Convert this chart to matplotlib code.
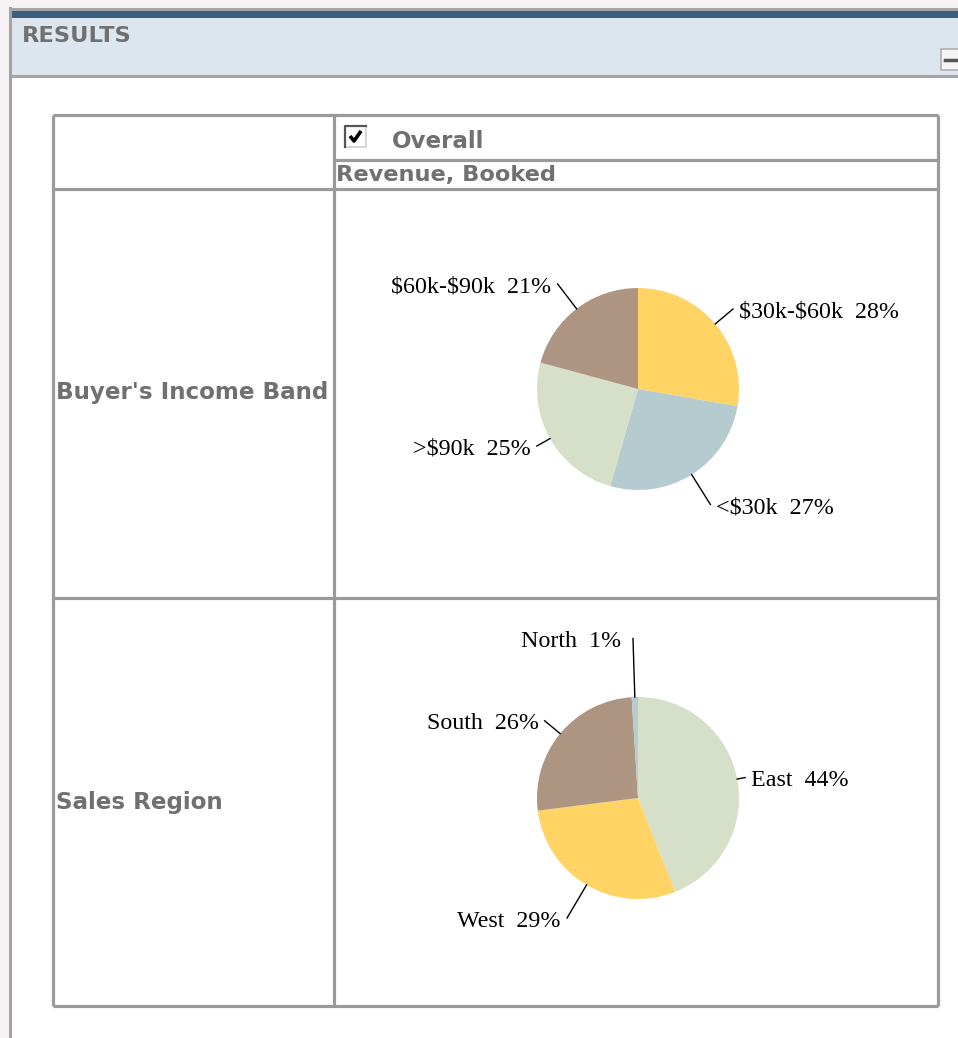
import matplotlib
matplotlib.use("Agg")
import matplotlib.pyplot as plt
from matplotlib.patches import Rectangle
import numpy as np

# ---------------- data ----------------
income_labels = ["$30k-$60k", "<$30k", ">$90k", "$60k-$90k"]
income_pct = [28, 27, 25, 21]
region_labels = ["East", "West", "South", "North"]
region_pct = [44, 29, 26, 1]

panel_title = "RESULTS"
column_header = "Overall"
measure_header = "Revenue, Booked"
row_headers = ["Buyer's Income Band", "Sales Region"]

# ---------------- style ----------------
YELLOW, BLUE, GREEN, BROWN = "#ffd364", "#b5cbcf", "#d6dfc7", "#ad9582"
income_colors = [YELLOW, BLUE, GREEN, BROWN]
region_colors = [GREEN, YELLOW, BROWN, BLUE]
income_leader = [1.23, 1.35, 1.15, 1.31]
region_leader = [1.08, 1.38, 1.2, 1.58]

W, H, DPI = 958, 1038, 100
fig = plt.figure(figsize=(W / DPI, H / DPI), dpi=DPI)
fig.patch.set_facecolor("#f6f2f6")

bg = fig.add_axes([0, 0, 1, 1])
bg.set_xlim(0, W)
bg.set_ylim(H, 0)
bg.axis("off")

def px(v):
    return v * 72.0 / DPI

GRAY = "#a4a4a4"
# panel body
bg.add_patch(Rectangle((10, 8), W - 10, H - 8, facecolor="white", edgecolor="none"))
# header band
bg.add_patch(Rectangle((11, 18), W - 11, 58, facecolor="#dde5ee", edgecolor="none"))
# dark blue bar
bg.add_patch(Rectangle((11, 11), W - 11, 7, facecolor="#3b5e7e", edgecolor="none"))
# borders
bg.plot([10, W], [8.5, 8.5], color=GRAY, lw=2.2)
bg.plot([10, 10], [8, H], color=GRAY, lw=2.2)
bg.plot([11, W], [76, 76], color=GRAY, lw=2.2)

bg.text(22, 36, panel_title, fontsize=px(22.5), fontweight="bold", color="#707070",
        ha="left", va="center", family="DejaVu Sans")
# minus button
bg.add_patch(Rectangle((941, 49), 20, 21, facecolor="#f4f4f4", edgecolor="#b0b0b0", lw=1.2))
bg.plot([945, 958], [59.5, 59.5], color="#555555", lw=2.5)

# table
L, C, R, T, B = 53, 334, 938, 115, 1006
y_hdr1, y_hdr2, y_mid = 160, 189, 598
tl = dict(color="#9a9a9a", lw=2.3, solid_capstyle="butt")
bg.plot([L, R], [T, T], **tl)
bg.plot([L, R], [B, B], **tl)
bg.plot([L, L], [T, B], **tl)
bg.plot([R, R], [T, B], **tl)
bg.plot([C, C], [T, B], **tl)
bg.plot([C, R], [y_hdr1, y_hdr1], **tl)
bg.plot([L, R], [y_hdr2, y_hdr2], **tl)
bg.plot([L, R], [y_mid, y_mid], **tl)

# checkbox
bg.add_patch(Rectangle((345, 126), 21, 21, facecolor="white", edgecolor="#d0d0d0", lw=1.2))
bg.plot([345, 345, 366], [147, 126, 126], color="#555555", lw=1.6)
bg.plot([350, 354, 361], [136, 141, 131], color="black", lw=2.6, solid_capstyle="butt")

hdr = dict(fontweight="bold", color="#707070", family="DejaVu Sans", va="center")
bg.text(392, 141, column_header, fontsize=px(23), ha="left", **hdr)
bg.text(336, 175, measure_header, fontsize=px(22.5), ha="left", **hdr)
bg.text(56, 393, row_headers[0], fontsize=px(23), ha="left", **hdr)
bg.text(56, 802, row_headers[1], fontsize=px(23), ha="left", **hdr)

# pies
RAD = 101.0
SPAN = 1.9

def pie_axes(cx, cy):
    s = 2 * SPAN * RAD
    ax = fig.add_axes([(cx - s / 2) / W, (H - cy - s / 2) / H, s / W, s / H])
    return ax

def draw_pie(ax, labels, values, colors, leaders):
    wedges, _ = ax.pie(values, colors=colors, startangle=90, counterclock=False,
                       radius=1.0, wedgeprops=dict(linewidth=0))
    ax.set_xlim(-SPAN, SPAN)
    ax.set_ylim(-SPAN, SPAN)
    ax.set_aspect("equal")
    ax.axis("off")
    for w, lab, v, lf in zip(wedges, labels, values, leaders):
        ang = np.deg2rad((w.theta1 + w.theta2) / 2)
        c, s = np.cos(ang), np.sin(ang)
        ax.plot([c * 1.0, c * lf], [s * 1.0, s * lf], color="black", lw=1.0,
                clip_on=False)
        if abs(c) < 0.1:
            ha, dx = "right", -0.12
        elif c > 0:
            ha, dx = "left", 0.06
        else:
            ha, dx = "right", -0.06
        ax.text(c * lf + dx, s * lf - 0.03, f"{lab}  {v}%", ha=ha, va="center",
                fontsize=px(24), family="Liberation Serif", color="black",
                parse_math=False, clip_on=False)

ax1 = pie_axes(638, 389)
draw_pie(ax1, income_labels, income_pct, income_colors, income_leader)
ax2 = pie_axes(638, 798)
draw_pie(ax2, region_labels, region_pct, region_colors, region_leader)

fig.savefig("out.png", dpi=DPI, facecolor=fig.get_facecolor())
